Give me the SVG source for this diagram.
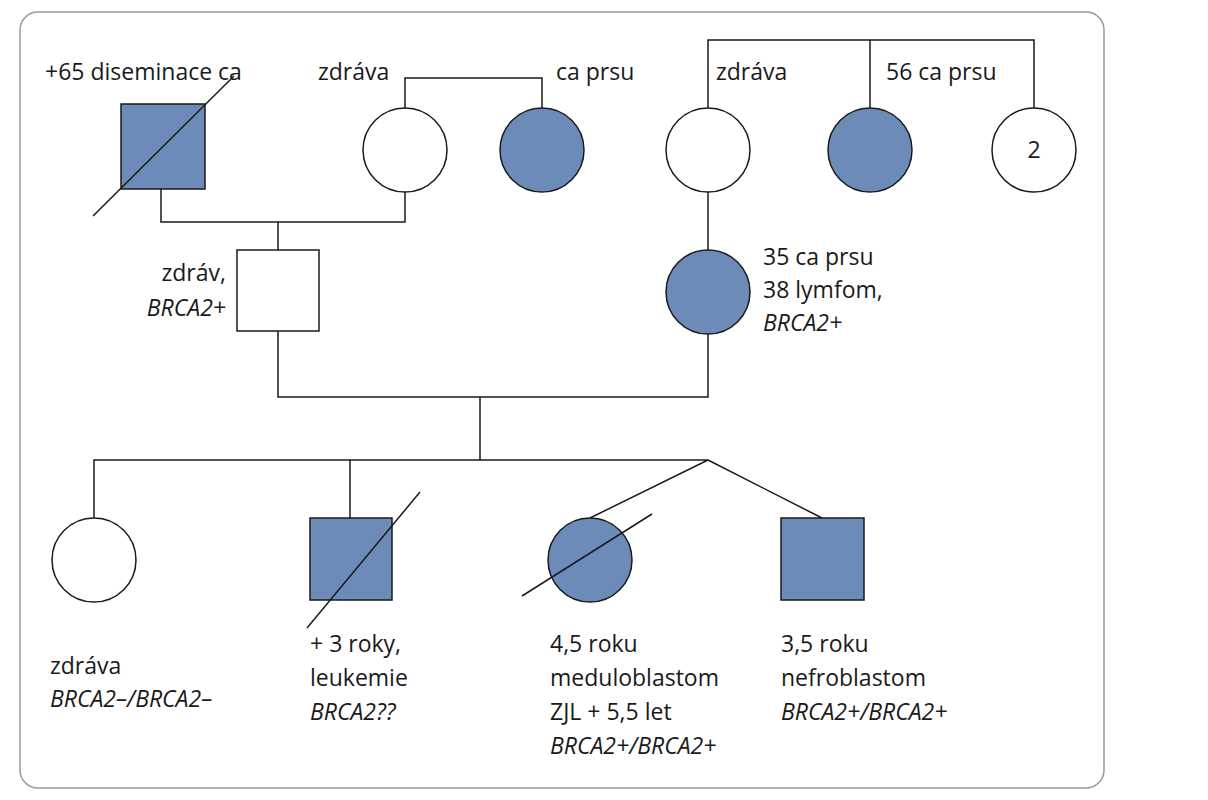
<svg xmlns="http://www.w3.org/2000/svg" width="1208" height="800" viewBox="0 0 1208 800">
<style>
.n{stroke:#1a1a1a;stroke-width:1.5;fill:#fff}
.f{fill:#6d8bb9}
.l{stroke:#1a1a1a;stroke-width:1.5;fill:none}
text{font-family:"Myriad Pro","Open Sans","Liberation Sans",sans-serif;font-size:23px;fill:#1a1a1a}
.i{font-style:italic}
</style>
<rect x="0" y="0" width="1208" height="800" fill="#fff"/>
<rect x="20" y="12" width="1084" height="776" rx="18" fill="none" stroke="#999" stroke-width="1.5"/>
<g id="connectors" class="l">
<path d="M405 108V78H542V108"/>
<path d="M708 108V40H1034V108M870 40V108"/>
<path d="M161 189V222H405V192M278 222V250"/>
<path d="M708 192V250"/>
<path d="M278 331V397H708V334M480 397V460"/>
<path d="M94 518V460H708M350 460V518M708 460L590 518M708 460L822 518"/>
</g>
<g id="n1"><rect class="n f" x="121" y="104" width="84" height="85"/><line class="l" x1="93" y1="216" x2="234" y2="76"/><text x="45" y="80">+65 diseminace ca</text></g>
<g id="n2"><circle class="n" cx="405" cy="150" r="42"/><text x="318" y="80">zdráva</text></g>
<g id="n3"><circle class="n f" cx="542" cy="150" r="42"/><text x="556" y="80">ca prsu</text></g>
<g id="n4"><circle class="n" cx="708" cy="150" r="42"/><text x="716" y="80">zdráva</text></g>
<g id="n5"><circle class="n f" cx="870" cy="150" r="42"/><text x="886" y="80">56 ca prsu</text></g>
<g id="n6"><circle class="n" cx="1034" cy="150" r="42"/><text x="1034" y="158" text-anchor="middle">2</text></g>
<g id="n7"><rect class="n" x="237" y="250" width="82" height="81"/><text x="226" y="281" text-anchor="end">zdráv,</text><text class="i" x="226" y="316" text-anchor="end">BRCA2+</text></g>
<g id="n8"><circle class="n f" cx="708" cy="292" r="42"/><text x="763" y="265">35 ca prsu</text><text x="763" y="298">38 lymfom,</text><text class="i" x="763" y="331">BRCA2+</text></g>
<g id="n9"><circle class="n" cx="94" cy="560" r="42"/><text x="50" y="674">zdráva</text><text class="i" x="50" y="707">BRCA2–/BRCA2–</text></g>
<g id="n10"><rect class="n f" x="310" y="518" width="82" height="82"/><line class="l" x1="307" y1="628" x2="420" y2="492"/><text x="310" y="652">+ 3 roky,</text><text x="310" y="686">leukemie</text><text class="i" x="310" y="720">BRCA2??</text></g>
<g id="n11"><circle class="n f" cx="590" cy="560" r="42"/><line class="l" x1="522" y1="596" x2="652" y2="514"/><text x="550" y="652">4,5 roku</text><text x="550" y="686">meduloblastom</text><text x="550" y="720">ZJL + 5,5 let</text><text class="i" x="550" y="754">BRCA2+/BRCA2+</text></g>
<g id="n12"><rect class="n f" x="781" y="518" width="83" height="82"/><text x="781" y="652">3,5 roku</text><text x="781" y="686">nefroblastom</text><text class="i" x="781" y="720">BRCA2+/BRCA2+</text></g>
</svg>
